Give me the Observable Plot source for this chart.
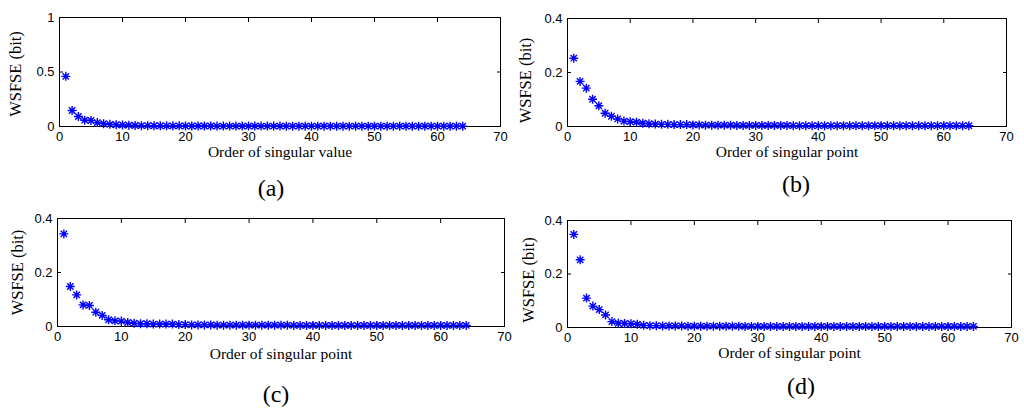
<!DOCTYPE html>
<html><head><meta charset="utf-8">
<script src="https://cdn.jsdelivr.net/npm/d3@7"></script>
<script src="https://cdn.jsdelivr.net/npm/@observablehq/plot@0.6"></script>
<style>
body{margin:0;background:#fff;}
#root{position:relative;width:1024px;height:410px;overflow:hidden;background:#fff;}
.panel{position:absolute;}
.cap{position:absolute;font-family:"Liberation Serif","Times New Roman",serif;font-size:24px;transform:translate(-50%,-50%);color:#000;white-space:nowrap;}
</style></head><body><div id="root"></div>
<script>
const xTicks = [0, 10, 20, 30, 40, 50, 60, 70];
const yTicksA = [0, 0.5, 1];
const yTicksBCD = [0, 0.2, 0.4];
const xLabels = ["Order of singular value", "Order of singular point", "Order of singular point", "Order of singular point"];
const yLabel = "WSFSE (bit)";
const captions = ["(a)", "(b)", "(c)", "(d)"];
const order = [1,2,3,4,5,6,7,8,9,10,11,12,13,14,15,16,17,18,19,20,21,22,23,24,25,26,27,28,29,30,31,32,
  33,34,35,36,37,38,39,40,41,42,43,44,45,46,47,48,49,50,51,52,53,54,55,56,57,58,59,60,61,62,63,64];
const wsfseA = [0.46,0.147,0.092,0.058,0.055,0.036,0.026,0.02,0.016,0.014,0.012,0.009,0.008,0.008,0.007,0.007,
  0.006,0.006,0.006,0.005,0.005,0.005,0.005,0.005,0.004,0.004,0.004,0.004,0.004,0.004,0.004,0.004,
  0.004,0.004,0.004,0.003,0.003,0.003,0.003,0.003,0.003,0.003,0.003,0.003,0.003,0.003,0.003,0.003,
  0.003,0.003,0.003,0.003,0.003,0.003,0.003,0.003,0.003,0.003,0.003,0.003,0.003,0.003,0.003,0.003];
const wsfseB = [0.253,0.167,0.142,0.101,0.077,0.049,0.038,0.028,0.02,0.018,0.016,0.012,0.01,0.009,0.008,0.008,
  0.007,0.007,0.007,0.006,0.006,0.005,0.005,0.005,0.005,0.005,0.004,0.004,0.004,0.004,0.004,0.004,
  0.004,0.004,0.004,0.003,0.003,0.003,0.003,0.003,0.003,0.003,0.003,0.003,0.003,0.003,0.003,0.003,
  0.003,0.003,0.003,0.003,0.003,0.003,0.003,0.003,0.003,0.003,0.003,0.003,0.003,0.003,0.003,0.003];
const wsfseC = [0.343,0.148,0.117,0.08,0.078,0.053,0.041,0.025,0.021,0.02,0.015,0.012,0.01,0.01,0.009,0.009,
  0.009,0.009,0.007,0.007,0.006,0.006,0.006,0.006,0.005,0.005,0.005,0.005,0.005,0.005,0.005,0.005,
  0.005,0.005,0.005,0.005,0.004,0.004,0.004,0.004,0.004,0.004,0.004,0.004,0.004,0.004,0.004,0.004,
  0.004,0.004,0.004,0.004,0.004,0.004,0.004,0.004,0.004,0.004,0.004,0.004,0.004,0.004,0.004,0.004];
const wsfseD = [0.348,0.253,0.11,0.08,0.067,0.047,0.022,0.016,0.015,0.014,0.012,0.008,0.007,0.007,0.006,0.006,
  0.006,0.006,0.005,0.005,0.005,0.005,0.005,0.005,0.005,0.005,0.005,0.004,0.004,0.004,0.004,0.004,
  0.004,0.004,0.004,0.004,0.004,0.004,0.004,0.004,0.004,0.004,0.004,0.004,0.004,0.004,0.004,0.004,
  0.004,0.004,0.004,0.004,0.004,0.004,0.004,0.004,0.004,0.004,0.004,0.004,0.004,0.004,0.004,0.004];

const series = [wsfseA, wsfseB, wsfseC, wsfseD];
const yMaxes = [1, 0.4, 0.4, 0.4];
const yTickSets = [yTicksA, yTicksBCD, yTicksBCD, yTicksBCD];

// layout (pixels)
const layout = [
  {left:0,   top:0,   ml:59, mr:12, mt:17, mb:79, xlDy:30, ylDx:-44, ylDy:2, capX:271, capY:188},
  {left:512, top:0,   ml:55, mr:18, mt:18, mb:79, xlDy:30, ylDx:-42, ylDy:8, capX:796, capY:184},
  {left:0,   top:205, ml:57, mr:8,  mt:13, mb:84, xlDy:32, ylDx:-40, ylDy:0, capX:276, capY:394},
  {left:512, top:205, ml:55, mr:13, mt:15, mb:83, xlDy:30, ylDx:-39, ylDy:6, capX:801, capY:386}
];

// MATLAB-like '*' marker: plus combined with x
const matlabStar = {
  draw(ctx, size) {
    const r = Math.sqrt(size / Math.PI);
    const k = r * Math.SQRT1_2;
    ctx.moveTo(-r, 0); ctx.lineTo(r, 0);
    ctx.moveTo(0, -r); ctx.lineTo(0, r);
    ctx.moveTo(-k, -k); ctx.lineTo(k, k);
    ctx.moveTo(-k, k); ctx.lineTo(k, -k);
  }
};

const root = document.getElementById("root");
const serif = "Liberation Serif, Times New Roman, serif";

layout.forEach((L, i) => {
  const data = order.map((o, j) => ({order: o, v: series[i][j]}));
  const chart = Plot.plot({
    width: 512, height: 205,
    marginLeft: L.ml, marginRight: L.mr, marginTop: L.mt, marginBottom: L.mb,
    x: {domain: [0, 70]},
    y: {domain: [0, yMaxes[i]]},
    style: {fontFamily: "Liberation Sans, Arial, sans-serif", fontSize: "13px", color: "#000", background: "transparent", overflow: "visible"},
    marks: [
      Plot.frame({stroke: "#000", strokeWidth: 1}),
      Plot.axisX({anchor: "bottom", ticks: xTicks, tickSize: -4, tickPadding: 9, label: null, tickFormat: d => String(d)}),
      Plot.axisX({anchor: "top", ticks: xTicks, tickSize: -4, label: null, tickFormat: () => ""}),
      Plot.axisY({anchor: "left", ticks: yTickSets[i], tickSize: -4, tickPadding: 9, label: null, tickFormat: d => String(d)}),
      Plot.axisY({anchor: "right", ticks: yTickSets[i], tickSize: -4, label: null, tickFormat: () => ""}),
      Plot.dot(data, {x: "order", y: "v", symbol: matlabStar, r: 4.5, stroke: "#0000ff", strokeWidth: 1.4}),
      Plot.text([xLabels[i]], {frameAnchor: "bottom", dy: L.xlDy, text: d => d, fontFamily: serif, fontSize: 15.5, fill: "#000"}),
      Plot.text([yLabel], {frameAnchor: "left", dx: L.ylDx, dy: L.ylDy, rotate: -90, textAnchor: "middle", text: d => d, fontFamily: serif, fontSize: 16.5, fill: "#000"})
    ]
  });
  const wrap = document.createElement("div");
  wrap.className = "panel";
  wrap.style.left = L.left + "px";
  wrap.style.top = L.top + "px";
  wrap.appendChild(chart);
  root.appendChild(wrap);
  const cap = document.createElement("div");
  cap.className = "cap";
  cap.style.left = L.capX + "px";
  cap.style.top = L.capY + "px";
  cap.textContent = captions[i];
  root.appendChild(cap);
});
</script>
</body></html>
